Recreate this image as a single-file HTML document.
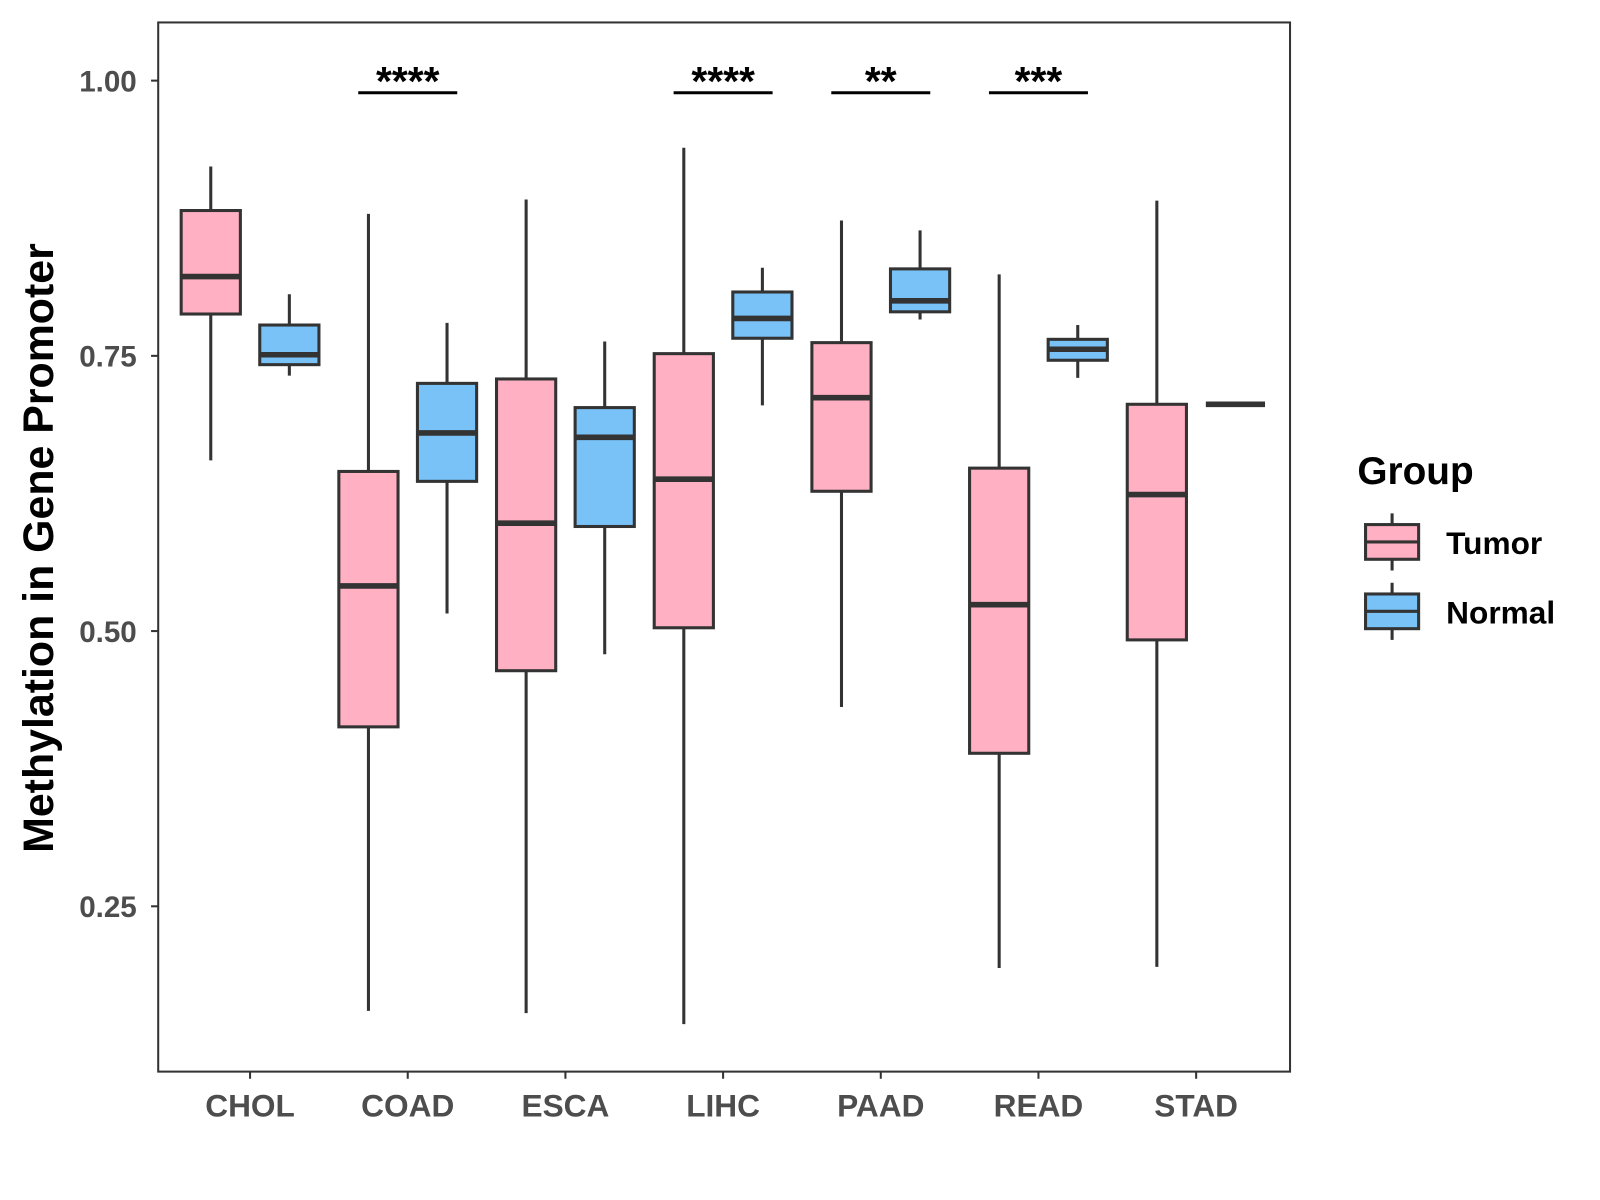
<!DOCTYPE html>
<html><head><meta charset="utf-8"><style>html,body{margin:0;padding:0;background:#fff}svg{display:block}</style></head>
<body>
<svg id="chart" width="1600" height="1200" viewBox="0 0 1567.7 1175.8" xmlns="http://www.w3.org/2000/svg" font-family="Liberation Sans, Arial, sans-serif">
<rect x="0" y="0" width="1567.7" height="1175.8" fill="#fff"/>
<g id="marks"></g>
<rect x="155" y="22" width="1109" height="1028" fill="none" stroke="#333" stroke-width="2"/>
<text transform="translate(52,537) rotate(-90)" text-anchor="middle" font-size="42" font-weight="bold" fill="#000">Methylation in Gene Promoter</text>
<g>
<text x="1330" y="474" font-size="38" font-weight="bold" fill="#000">Group</text>
<g>
<line x1="1364" y1="503" x2="1364" y2="559" stroke="#333" stroke-width="3"/>
<rect x="1338" y="514" width="52" height="34" fill="#FFB0C3" stroke="#333" stroke-width="3"/>
<line x1="1338" y1="531" x2="1390" y2="531" stroke="#333" stroke-width="3"/>
<text x="1417" y="543" font-size="31" font-weight="bold" fill="#000">Tumor</text>
</g>
<g>
<line x1="1364" y1="571" x2="1364" y2="627" stroke="#333" stroke-width="3"/>
<rect x="1338" y="582" width="52" height="34" fill="#78C2F8" stroke="#333" stroke-width="3"/>
<line x1="1338" y1="599" x2="1390" y2="599" stroke="#333" stroke-width="3"/>
<text x="1417" y="611" font-size="31" font-weight="bold" fill="#000">Normal</text>
</g>
</g>
</svg>
<script>
const categories = ["CHOL","COAD","ESCA","LIHC","PAAD","READ","STAD"];
// [lowWhisker, q1, median, q3, highWhisker]
const tumorStats = [
  [0.655,0.788,0.822,0.882,0.922],
  [0.155,0.413,0.541,0.645,0.879],
  [0.153,0.464,0.598,0.729,0.892],
  [0.143,0.503,0.638,0.752,0.939],
  [0.431,0.627,0.712,0.762,0.873],
  [0.194,0.389,0.524,0.648,0.824],
  [0.195,0.492,0.624,0.706,0.891]
];
const normalStats = [
  [0.732,0.742,0.751,0.778,0.806],
  [0.516,0.636,0.680,0.725,0.780],
  [0.479,0.595,0.676,0.703,0.763],
  [0.705,0.766,0.784,0.808,0.830],
  [0.783,0.790,0.800,0.829,0.864],
  [0.730,0.746,0.756,0.765,0.778],
  [0.706,0.706,0.706,0.706,0.706]
];
const sigLabels = ["","****","","****","**","***",""];
const sigLevel = 0.989;
const yTicks = [0.25,0.50,0.75,1.00];
const yTickLabels = ["0.25","0.50","0.75","1.00"];

const NS = "http://www.w3.org/2000/svg";
const g = document.getElementById("marks");
function y(v){ return 79 + (1 - v) * 1078.7; }
function x(i){ return 245 + 154.5 * i; }
function mk(tag, attrs, parent){
  const e = document.createElementNS(NS, tag);
  for (const k in attrs) e.setAttribute(k, attrs[k]);
  (parent || g).appendChild(e);
  return e;
}
yTicks.forEach((t,i)=>{
  const l = mk("line",{x1:148,x2:155,y1:y(t),y2:y(t),stroke:"#333","stroke-width":2});
  
  
  const tx = mk("text",{x:134,y:y(t)+10.5,"text-anchor":"end","font-size":29,"font-weight":"bold",fill:"#4d4d4d"});
  
  
  tx.textContent = yTickLabels[i];
});
categories.forEach((c,i)=>{
  const l = mk("line",{x1:x(i),x2:x(i),y1:1050,y2:1057,stroke:"#333","stroke-width":2});
  
  
  const tx = mk("text",{x:x(i),y:1094,"text-anchor":"middle","font-size":31,"font-weight":"bold",fill:"#4d4d4d"});
  
  
  tx.textContent = c;
});
function box(cx, s, fill, name){
  const grp = mk("g",{});
  
  
  const w = 58;
  mk("line",{x1:cx,x2:cx,y1:y(s[4]),y2:y(s[0]),stroke:"#333","stroke-width":3},grp);
  const h = Math.max(y(s[1]) - y(s[3]), 0.01);
  if (s[3] > s[1]) mk("rect",{x:cx-w/2,y:y(s[3]),width:w,height:h,fill:fill,stroke:"#333","stroke-width":3},grp);
  mk("line",{x1:cx-w/2,x2:cx+w/2,y1:y(s[2]),y2:y(s[2]),stroke:"#333","stroke-width":5.5},grp);
}
categories.forEach((c,i)=>{
  box(x(i)-38.5, tumorStats[i], "#FFB0C3", "box-tumor-"+c.toLowerCase());
  box(x(i)+38.5, normalStats[i], "#78C2F8", "box-normal-"+c.toLowerCase());
  if (sigLabels[i]) {
    const l = mk("line",{x1:x(i)-48.5,x2:x(i)+48.5,y1:y(sigLevel),y2:y(sigLevel),stroke:"#000","stroke-width":3});
    
    
    const t = mk("text",{x:x(i),y:y(sigLevel)+2,"text-anchor":"middle","font-size":40,"font-weight":"bold",fill:"#000"});
    
    
    t.textContent = sigLabels[i];
  }
});
</script>
</body></html>
